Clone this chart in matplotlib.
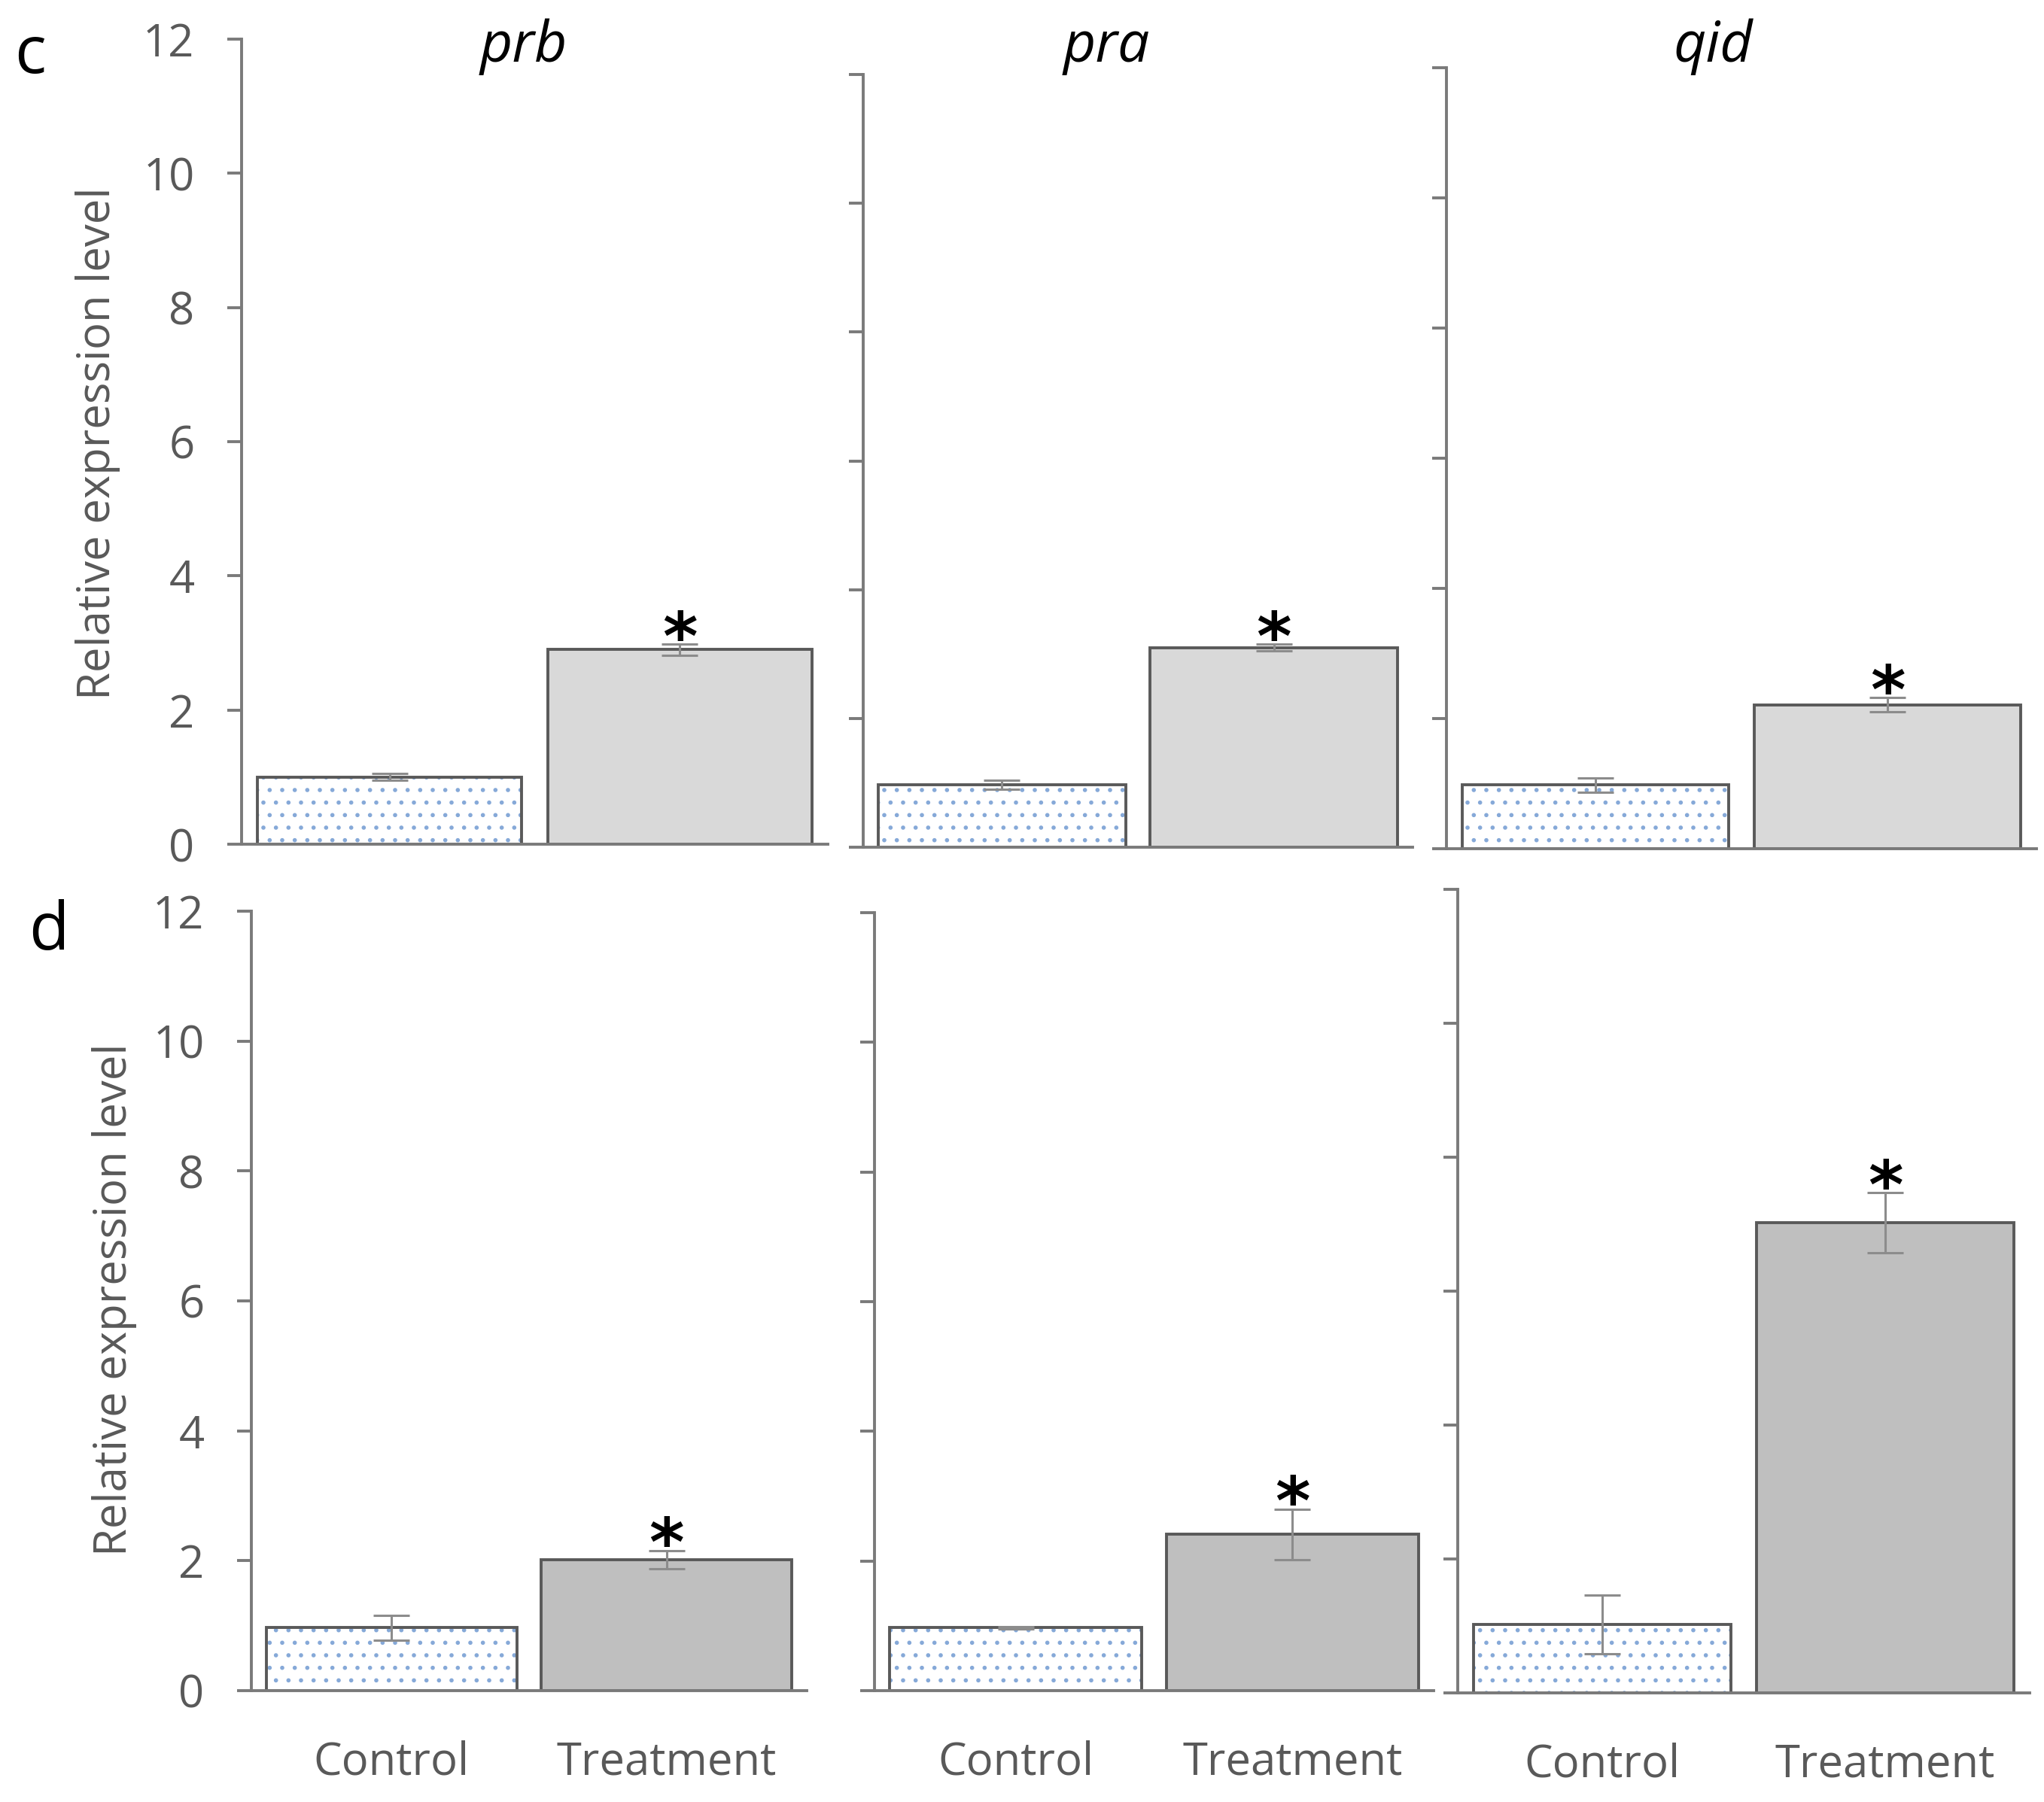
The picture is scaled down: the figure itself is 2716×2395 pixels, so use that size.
import matplotlib
matplotlib.use("Agg")
import matplotlib.pyplot as plt

W, H = 2716, 2395
DPI = 100

plt.rcParams["font.family"] = ["Open Sans", "DejaVu Sans"]
plt.rcParams["hatch.linewidth"] = 1.6

# data
genes = ["prb", "pra", "qid"]
groups = ["Control", "Treatment"]
yticks = [0, 2, 4, 6, 8, 10, 12]

c_means = [[1.00, 2.90], [0.97, 3.10], [0.98, 2.21]]
c_errs = [[0.05, 0.08], [0.07, 0.05], [0.11, 0.11]]
d_means = [[0.97, 2.02], [0.97, 2.41], [1.02, 7.02]]
d_errs = [[0.19, 0.14], [0.02, 0.39], [0.44, 0.45]]
significant = [False, True]

# layout in pixels: y-axis x, right end, y of the 12 tick, y of 0
c_boxes = [(321, 1100, 52, 1122), (1147, 1877, 99, 1126), (1922, 2706, 90, 1128)]
d_boxes = [(334, 1072, 1211, 2247), (1162, 1905, 1213, 2247), (1937, 2697, 1182, 2250)]

AXIS = "#7a7a7a"
EDGE = "#595959"
TEXT = "#595959"
DOTS = "#86a9d8"
ERR = "#8c8c8c"
BAR_W = 0.91


def px(x, y):
    return x / W, 1 - y / H


def add_panel(fig, box, means, errs, trt_color, first_col, bottom_row):
    left, right, ytop, yzero = box
    ax = fig.add_axes([left / W, 1 - yzero / H, (right - left) / W, (yzero - ytop) / H])
    x = list(range(len(groups)))

    fill = ax.bar(x, means, width=BAR_W, color=["white", trt_color], linewidth=0, zorder=2)
    fill[0].set_hatch(".")
    fill[0].set_edgecolor(DOTS)
    ax.bar(x, means, width=BAR_W, fill=False, edgecolor=EDGE, linewidth=2.8, zorder=2.2)
    ax.errorbar(x, means, yerr=errs, fmt="none", ecolor=ERR, elinewidth=2.2,
                capsize=17, capthick=2.2, zorder=4)

    for i, s in enumerate(significant):
        if s:
            ax.annotate("*", xy=(x[i], means[i] + errs[i]), xytext=(0, 3),
                        textcoords="offset points", ha="center", va="center",
                        fontsize=64, fontweight="bold", family="DejaVu Sans",
                        color="black", zorder=5)

    ax.set_xlim(-0.51, 1.51)
    ax.set_ylim(0, 12)
    ax.set_yticks(yticks)
    ax.set_xticks(x)
    for side in ["top", "right"]:
        ax.spines[side].set_visible(False)
    for side in ["left", "bottom"]:
        ax.spines[side].set_color(AXIS)
        ax.spines[side].set_linewidth(2.8)
    ax.tick_params(axis="y", direction="out", length=14, width=2.8, color=AXIS,
                   pad=31, labelsize=43, labelcolor=TEXT, labelleft=first_col)
    ax.tick_params(axis="x", length=0, pad=47, labelsize=43, labelcolor=TEXT)
    if bottom_row:
        ax.set_xticklabels(groups)
    else:
        ax.set_xticklabels([])
    return ax


fig = plt.figure(figsize=(W / DPI, H / DPI), dpi=DPI)

for j in range(len(genes)):
    add_panel(fig, c_boxes[j], c_means[j], c_errs[j], "#d9d9d9", j == 0, False)
    add_panel(fig, d_boxes[j], d_means[j], d_errs[j], "#bfbfbf", j == 0, True)

# gene names over the top row
title_x = [696, 1470, 2276]
for j, g in enumerate(genes):
    fig.text(*px(title_x[j], 82), g, ha="center", va="baseline", fontsize=54,
             style="italic", color="black")

# panel letters
fig.text(*px(19, 97), "c", ha="left", va="baseline", fontsize=63, color="black")
fig.text(*px(38, 1262), "d", ha="left", va="baseline", fontsize=63, color="black")

# y labels
fig.text(*px(130, 589), "Relative expression level", rotation=90, ha="center",
         va="center", fontsize=43, color=TEXT)
fig.text(*px(152, 1727), "Relative expression level", rotation=90, ha="center",
         va="center", fontsize=43, color=TEXT)

fig.savefig("out.png", dpi=DPI)
